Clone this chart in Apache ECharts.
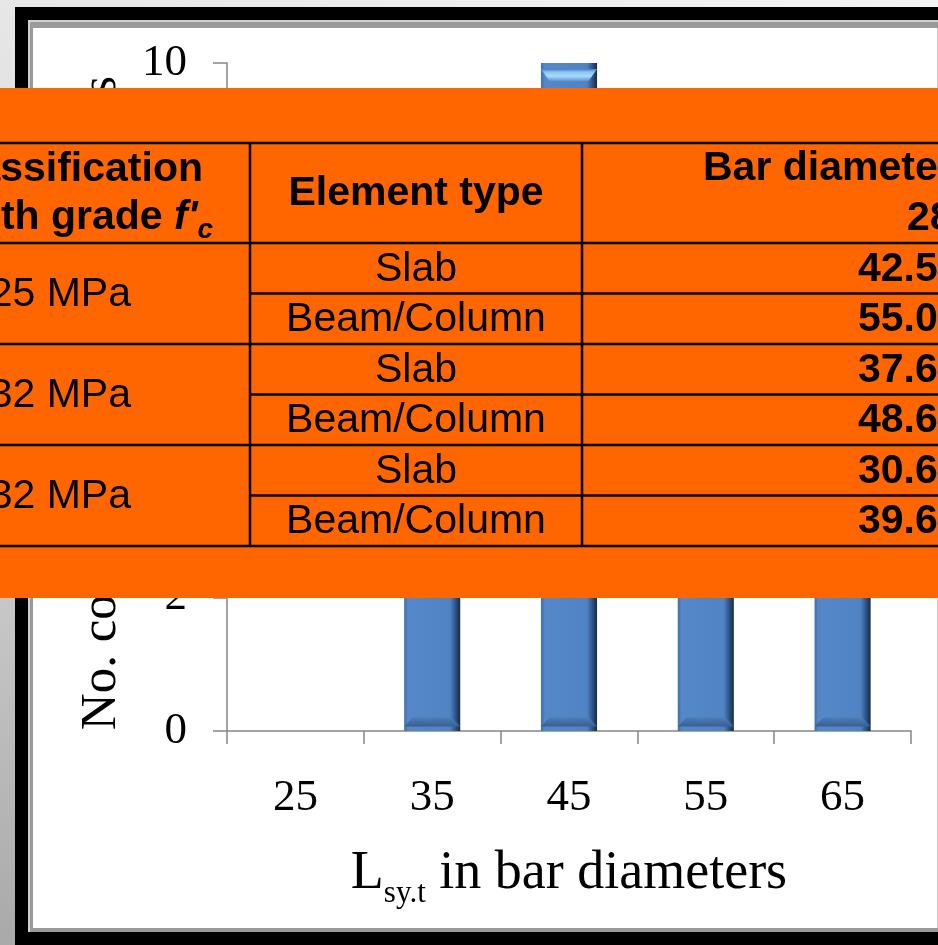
<!DOCTYPE html>
<html>
<head>
<meta charset="utf-8">
<script src="https://cdn.jsdelivr.net/npm/echarts@6/dist/echarts.min.js"></script>
<style>
  html, body { margin: 0; padding: 0; }
  body { width: 938px; height: 945px; position: relative; overflow: hidden;
         background: linear-gradient(200deg, #f4f4f4 0%, #d6d6d6 60%, #a9a9a9 100%); }
  .frame-black { position: absolute; left: 15px; top: 7px; width: 940px; height: 950px; background: #000; }
  .frame-grey  { position: absolute; left: 28px; top: 20px; width: 920px; height: 912px;
                 background: #9a9a9a; border-top: 2px solid #d0d0d0; border-left: 2px solid #d0d0d0; box-sizing: border-box; }
  .frame-inner { position: absolute; left: 33px; top: 28px; width: 904px; height: 900px; background: #fff;
                 border-right: 1px solid #c8c8c8; box-sizing: content-box; }
  #chart { position: absolute; left: 0; top: 0; width: 938px; height: 945px; }
</style>
</head>
<body>
<div class="frame-black"></div>
<div class="frame-grey"></div>
<div class="frame-inner"></div>
<div id="chart"></div>
<script>
// Histogram bins of the splice length (in bar diameters) and their counts
const categories = ['25', '35', '45', '55', '65'];
const counts = [0, 4, 10, 6, 4];
const yTicks = { min: 0, max: 10, interval: 2 };

// Lap length table: grade, element type, length for 28 mm bars
const gradeLabels = ['25 MPa', '32 MPa', '32 MPa'];
const elementTypes = ['Slab', 'Beam/Column', 'Slab', 'Beam/Column', 'Slab', 'Beam/Column'];
const lengths28 = ['42.5', '55.0', '37.6', '48.6', '30.6', '39.6'];

const serif = '"Liberation Serif", "Times New Roman", serif';
const sans = '"Liberation Sans", Arial, sans-serif';

const chart = echarts.init(document.getElementById('chart'), null, { renderer: 'canvas' });

// --- overlay table built from graphic elements ---
const tableTop = 143, headerBottom = 243, rowH = 50.5, tableBottom = 545;
const col1 = 250, col2 = 582;
const lineColor = '#000';
const tableEls = [];
tableEls.push({ type: 'rect', shape: { x: 0, y: 88, width: 938, height: 510 }, style: { fill: '#FF6600' }, z: 100 });
// horizontal rules
tableEls.push({ type: 'line', shape: { x1: 0, y1: tableTop, x2: 938, y2: tableTop }, style: { stroke: lineColor, lineWidth: 2.5 }, z: 101 });
tableEls.push({ type: 'line', shape: { x1: 0, y1: headerBottom, x2: 938, y2: headerBottom }, style: { stroke: lineColor, lineWidth: 2.5 }, z: 101 });
for (let i = 1; i <= 6; i++) {
  const y = headerBottom + rowH * i;
  const full = (i % 2 === 0);
  tableEls.push({ type: 'line', shape: { x1: full ? 0 : col1, y1: y, x2: 938, y2: y }, style: { stroke: lineColor, lineWidth: 2.5 }, z: 101 });
}
// vertical rules
[col1, col2].forEach(x => tableEls.push({ type: 'line', shape: { x1: x, y1: tableTop, x2: x, y2: tableBottom }, style: { stroke: lineColor, lineWidth: 2.5 }, z: 101 }));

// header cells
tableEls.push({ type: 'text', z: 102, style: { x: 203, y: 170, text: 'Classification', align: 'right', verticalAlign: 'middle', font: 'bold 41px ' + sans, fill: '#000' } });
tableEls.push({ type: 'text', z: 102, style: {
  x: 213, y: 222, align: 'right', verticalAlign: 'middle',
  text: "{n|Strength grade }{i|f'}{s|c}",
  rich: {
    n: { font: 'bold 41px ' + sans, fill: '#000', verticalAlign: 'bottom', lineHeight: 44, padding: [0, 0, 6, 0] },
    i: { font: 'italic bold 41px ' + sans, fill: '#000', verticalAlign: 'bottom', lineHeight: 44, padding: [0, 0, 6, 0] },
    s: { font: 'italic bold 28px ' + sans, fill: '#000', verticalAlign: 'bottom', lineHeight: 30 }
  }
} });
tableEls.push({ type: 'text', z: 102, style: { x: (col1 + col2) / 2, y: 194, text: 'Element type', align: 'center', verticalAlign: 'middle', font: 'bold 41px ' + sans, fill: '#000' } });
tableEls.push({ type: 'text', z: 102, style: { x: 703, y: 169, text: 'Bar diameter (mm)', align: 'left', verticalAlign: 'middle', font: 'bold 41px ' + sans, fill: '#000' } });
tableEls.push({ type: 'text', z: 102, style: { x: 907, y: 219, text: '28', align: 'left', verticalAlign: 'middle', font: 'bold 41px ' + sans, fill: '#000' } });

gradeLabels.forEach((g, k) => {
  tableEls.push({ type: 'text', z: 102, style: { x: 131, y: headerBottom + rowH * (2 * k + 1) + 1, text: g, align: 'right', verticalAlign: 'middle', font: '41px ' + sans, fill: '#000' } });
});
elementTypes.forEach((t, k) => {
  const cy = headerBottom + rowH * (k + 0.5);
  tableEls.push({ type: 'text', z: 102, style: { x: (col1 + col2) / 2, y: cy + 1, text: t, align: 'center', verticalAlign: 'middle', font: '41px ' + sans, fill: '#000' } });
  tableEls.push({ type: 'text', z: 102, style: { x: 858, y: cy + 1, text: lengths28[k], align: 'left', verticalAlign: 'middle', font: 'bold 41px ' + sans, fill: '#000' } });
});

// bar body with a bevelled look: darker left/right edges
const barFill = new echarts.graphic.LinearGradient(0, 0, 1, 0, [
  { offset: 0, color: '#3f6fa9' },
  { offset: 0.07, color: '#5588c8' },
  { offset: 0.82, color: '#4f83c4' },
  { offset: 0.92, color: '#2d5283' },
  { offset: 1, color: '#172a42' }
]);
const capFill = new echarts.graphic.LinearGradient(0, 0, 0, 1, [
  { offset: 0, color: '#4a7cbc' },
  { offset: 0.25, color: '#8cc4f2' },
  { offset: 0.6, color: '#a9dafc' },
  { offset: 1, color: '#5f93d0' }
]);
const baseFill = new echarts.graphic.LinearGradient(0, 0, 0, 1, [
  { offset: 0, color: '#4d7db9' },
  { offset: 1, color: '#3a5f8f' }
]);
const capData = counts.map(v => v > 0 ? v : { value: v, symbolSize: [0, 0] });

chart.setOption({
  backgroundColor: 'transparent',
  animation: false,
  grid: { left: 227, right: 27, top: 63, bottom: 214, containLabel: false },
  xAxis: {
    type: 'category',
    data: categories,
    boundaryGap: true,
    axisLine: { show: true, lineStyle: { color: '#868686', width: 1.5 } },
    axisTick: { show: true, length: 13, lineStyle: { color: '#868686', width: 1.5 } },
    axisLabel: { color: '#000', fontFamily: serif, fontSize: 45, margin: 45 },
    name: '{a|L}{b|sy.t}{a| in bar diameters}',
    nameLocation: 'middle',
    nameGap: 122,
    nameTextStyle: {
      rich: {
        a: { fontFamily: serif, fontSize: 54, color: '#000', verticalAlign: 'bottom', lineHeight: 56, padding: [0, 0, 8, 0] },
        b: { fontFamily: serif, fontSize: 31, color: '#000', verticalAlign: 'bottom', lineHeight: 33 }
      }
    }
  },
  yAxis: {
    type: 'value',
    min: yTicks.min, max: yTicks.max, interval: yTicks.interval,
    axisLine: { show: true, lineStyle: { color: '#868686', width: 1.5 } },
    axisTick: { show: true, length: 14, lineStyle: { color: '#868686', width: 1.5 } },
    splitLine: { show: false },
    axisLabel: { color: '#000', fontFamily: serif, fontSize: 45, margin: 40, padding: [8, 0, 0, 0] },
    name: 'No. combinations of parameters',
    nameLocation: 'middle',
    nameRotate: 90,
    nameGap: 100,
    nameTextStyle: { fontFamily: serif, fontSize: 51, color: '#000', padding: [0, 12, 0, 0] }
  },
  series: [{
    type: 'bar',
    data: counts,
    barWidth: '41%',
    itemStyle: { color: barFill, borderWidth: 0 }
  }, {
    // light bevel along the top of each bar
    type: 'pictorialBar',
    data: capData,
    symbol: 'path://M0,0 L20,0 L17,4 L3,4 Z',
    symbolSize: [56, 12],
    symbolPosition: 'end',
    symbolOffset: [0, '50%'],
    itemStyle: { color: capFill },
    z: 3
  }, {
    // darker bevel along the base of each bar
    type: 'pictorialBar',
    data: capData,
    symbol: 'path://M3,0 L17,0 L20,4 L0,4 Z',
    symbolSize: [56, 9],
    symbolPosition: 'start',
    symbolOffset: [0, '-50%'],
    itemStyle: { color: baseFill },
    z: 3
  }],
  graphic: { elements: tableEls }
});
</script>
</body>
</html>
